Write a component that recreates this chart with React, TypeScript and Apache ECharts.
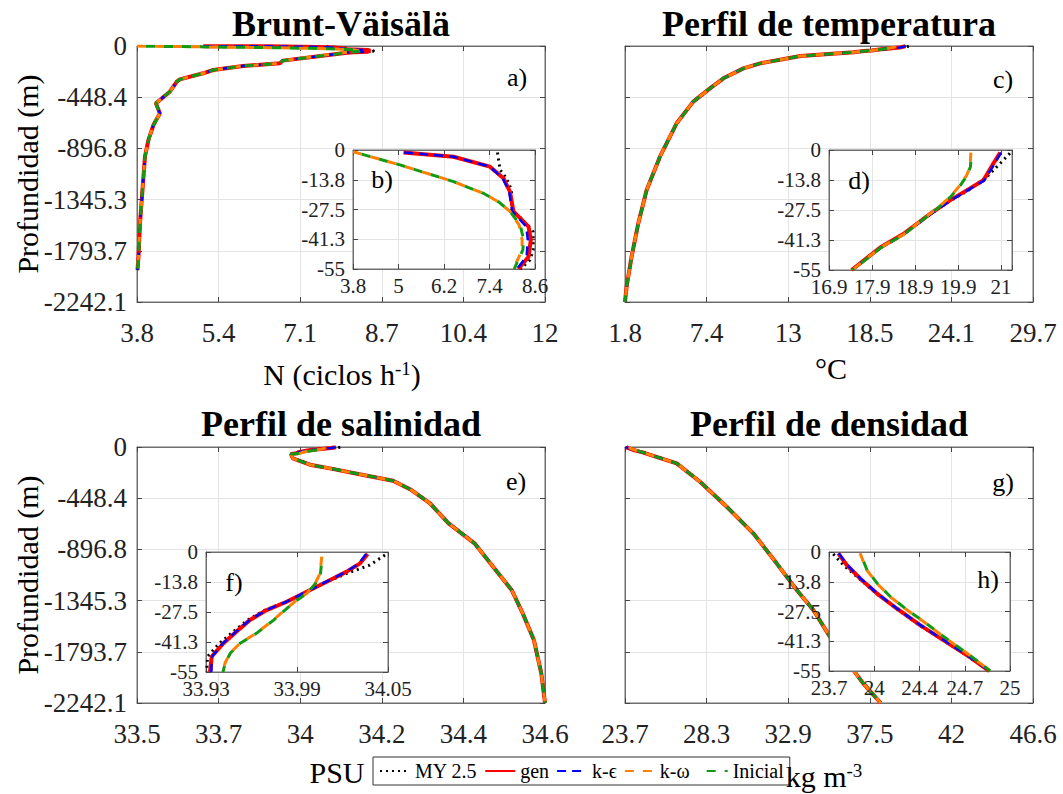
import React, { useEffect, useRef } from 'react';
import * as echarts from 'echarts';

const FONT = 'Liberation Serif';

const MODELS = ['MY 2.5', 'gen', 'k-ϵ', 'k-ω', 'Inicial'];

// ---- tick labels ----
const DEPTH_TICKS = ['-2242.1', '-1793.7', '-1345.3', '-896.8', '-448.4', '0'];
const INSET_DEPTH_TICKS = ['-55', '-41.3', '-27.5', '-13.8', '0'];
const N_TICKS = ['3.8', '5.4', '7.1', '8.7', '10.4', '12'];
const T_TICKS = ['1.8', '7.4', '13', '18.5', '24.1', '29.7'];
const S_TICKS = ['33.5', '33.7', '34', '34.2', '34.4', '34.6'];
const R_TICKS = ['23.7', '28.3', '32.9', '37.5', '42', '46.6'];
const N_INSET_TICKS = ['3.8', '5', '6.2', '7.4', '8.6'];
const T_INSET_TICKS = ['16.9', '17.9', '18.9', '19.9', '21'];
const S_INSET_TICKS = ['33.93', '33.99', '34.05'];
const R_INSET_TICKS = ['23.7', '24', '24.4', '24.7', '25'];

// ---- Brunt-Väisälä (ciclos/h) ----
const N_DEPTH_MY = [-1.2, -9.2, -13.1, -18.5, -27.7, -31, -37.8, -46.2, -50.8, -55];
const N_MY = [7.61, 7.68, 7.85, 7.98, 7.98, 8.2, 8.55, 8.55, 8.47, 8.21];
const N_DEPTH_GEN = [-1.2, -3.1, -7.7, -13.1, -19.3, -28.4, -35.4, -41.6, -49.3, -55];
const N_GEN = [5.13, 6.45, 7.41, 7.77, 7.94, 8.03, 8.43, 8.49, 8.43, 8.16];
const N_KE = [5.15, 6.45, 7.41, 7.75, 7.92, 8.0, 8.37, 8.41, 8.38, 8.12];
const N_DEPTH_KW = [-0.8, -6.9, -14.6, -20.2, -24.1, -28.4, -34.6, -41.6, -46.2, -55];
const N_KW = [3.8, 5.04, 6.45, 7.26, 7.65, 7.94, 8.18, 8.26, 8.26, 8.03];
const N_INI = [3.8, 5.04, 6.45, 7.26, 7.65, 7.94, 8.21, 8.3, 8.28, 8.05];
const N_DEEP_DEPTH = [-59, -128, -152, -175, -210, -239, -292, -312, -400, -473, -502, -590, -692, -823, -969, -1261, -1553, -1845, -1962];
const N_DEEP = [8.02, 6.73, 6.67, 5.93, 5.33, 5.13, 4.66, 4.6, 4.46, 4.26, 4.18, 4.26, 4.13, 4.03, 3.96, 3.91, 3.86, 3.83, 3.81];

// ---- Temperatura (°C) ----
const T_DEPTH_MY = [-1.5, -6.1, -12.3, -18.5, -23.1, -29.3, -38.5, -44.7, -55];
const T_MY = [21.21, 20.98, 20.66, 20.22, 19.8, 19.31, 18.67, 18.12, 17.44];
const T_DEPTH_GEN = [-1.2, -6.1, -13.9, -18.5, -23.1, -29.3, -38.5, -44.7, -55];
const T_GEN = [20.98, 20.82, 20.58, 20.18, 19.78, 19.31, 18.67, 18.12, 17.44];
const T_KE = [21.0, 20.85, 20.6, 20.2, 19.8, 19.33, 18.69, 18.14, 17.45];
const T_DEPTH_KW = [-1.2, -7.7, -11.6, -16.2, -21.6, -26.9, -33, -38.5, -44.7, -55];
const T_KW = [20.28, 20.26, 20.18, 20.02, 19.78, 19.47, 19.05, 18.69, 18.13, 17.45];
const T_INI = [20.29, 20.27, 20.19, 20.03, 19.79, 19.48, 19.06, 18.7, 18.14, 17.46];
const T_DEEP_DEPTH = [-88, -152, -196, -283, -371, -487, -677, -969, -1261, -1553, -1845, -2108, -2242];
const T_DEEP = [13.8, 11.04, 9.9, 8.53, 7.61, 6.47, 5.33, 4.19, 3.28, 2.71, 2.25, 1.91, 1.8];

// ---- Salinidad (PSU) ----
const S_DEPTH_MY = [-1.4, -6, -9.8, -13.6, -18.2, -22.8, -26.6, -31.2, -36.5, -41.8, -47.9, -55];
const S_MY = [34.048, 34.038, 34.023, 34.0096, 33.9964, 33.9832, 33.969, 33.9575, 33.948, 33.939, 33.931, 33.9304];
const S_DEPTH_GEN = [-0.9, -5.2, -9.0, -13.6, -18.2, -22.8, -26.6, -31.2, -36.5, -41.8, -47.9, -55];
const S_GEN = [34.0366, 34.0316, 34.0228, 34.0096, 33.9964, 33.9832, 33.97, 33.959, 33.95, 33.9415, 33.9338, 33.9326];
const S_KE = [34.0355, 34.031, 34.0225, 34.0094, 33.9962, 33.983, 33.9698, 33.9588, 33.9498, 33.9412, 33.934, 33.9335];
const S_DEPTH_KW = [-2.1, -9.8, -14.4, -19, -22, -25.8, -31.2, -37.3, -41.8, -46.4, -51, -55];
const S_KW = [34.0063, 34.0052, 34.002, 33.9964, 33.99, 33.9832, 33.9744, 33.963, 33.9524, 33.9458, 33.9425, 33.941];
const S_INI = [34.0066, 34.0055, 34.0022, 33.9966, 33.9902, 33.9834, 33.9746, 33.9632, 33.9526, 33.946, 33.9427, 33.9412];
const S_DEEP_DEPTH = [-61, -99, -158, -187, -245, -295, -377, -494, -669, -844, -1048, -1252, -1457, -1690, -1982, -2242];
const S_DEEP = [33.915, 33.92, 33.97, 34.02, 34.11, 34.19, 34.24, 34.29, 34.34, 34.41, 34.46, 34.51, 34.54, 34.57, 34.59, 34.6];

// ---- Densidad (kg m-3) ----
const R_DEPTH_MY = [-0.9, -6, -12.2, -19.1, -26.1, -33.8, -40.7, -47.6, -55];
const R_MY = [23.731, 23.803, 23.915, 24.04, 24.183, 24.35, 24.518, 24.686, 24.852];
const R_DEPTH_GEN = [-0.6, -6, -12.2, -19.1, -26.1, -33.8, -40.7, -47.6, -55];
const R_GEN = [23.767, 23.827, 23.923, 24.043, 24.186, 24.354, 24.521, 24.689, 24.852];
const R_KE = [23.77, 23.83, 23.925, 24.045, 24.188, 24.356, 24.523, 24.69, 24.853];
const R_DEPTH_KW = [-0.6, -8.3, -14.4, -20.6, -26.7, -32.1, -39.1, -46.7, -55];
const R_KW = [23.923, 23.971, 24.043, 24.138, 24.258, 24.378, 24.521, 24.689, 24.857];
const R_INI = [23.925, 23.973, 24.045, 24.14, 24.26, 24.38, 24.523, 24.69, 24.858];
const R_DEEP_DEPTH = [-143, -304, -523, -756, -1019, -1252, -1428, -1661, -1836, -2070, -2242];
const R_DEEP = [26.6, 27.91, 29.41, 30.9, 32.21, 33.34, 34.27, 35.2, 35.95, 37.07, 38.05];

const STYLES = [
  { color: '#000000', width: 3, type: [2, 4] as any, offset: 0 },
  { color: '#ff0000', width: 4, type: 'solid' as any, offset: 0 },
  { color: '#0000ff', width: 2.5, type: [9, 6] as any, offset: 0 },
  { color: '#ff8000', width: 3, type: [9, 9] as any, offset: 0 },
  { color: '#139a13', width: 3, type: [9, 9] as any, offset: 9 },
];

function pairs(vals: number[], depths: number[]) {
  return vals.map((v, i) => [v, depths[i]]);
}
function surf(set: { d: number[]; v: number[] }[]) {
  return set.map((c) => pairs(c.v, c.d));
}
function full(set: { d: number[]; v: number[] }[], deepV: number[], deepD: number[]) {
  return set.map((c) => pairs(c.v.concat(deepV), c.d.concat(deepD)));
}

const N_SET = [
  { d: N_DEPTH_MY, v: N_MY }, { d: N_DEPTH_GEN, v: N_GEN }, { d: N_DEPTH_GEN, v: N_KE },
  { d: N_DEPTH_KW, v: N_KW }, { d: N_DEPTH_KW, v: N_INI },
];
const T_SET = [
  { d: T_DEPTH_MY, v: T_MY }, { d: T_DEPTH_GEN, v: T_GEN }, { d: T_DEPTH_GEN, v: T_KE },
  { d: T_DEPTH_KW, v: T_KW }, { d: T_DEPTH_KW, v: T_INI },
];
const S_SET = [
  { d: S_DEPTH_MY, v: S_MY }, { d: S_DEPTH_GEN, v: S_GEN }, { d: S_DEPTH_GEN, v: S_KE },
  { d: S_DEPTH_KW, v: S_KW }, { d: S_DEPTH_KW, v: S_INI },
];
const R_SET = [
  { d: R_DEPTH_MY, v: R_MY }, { d: R_DEPTH_GEN, v: R_GEN }, { d: R_DEPTH_GEN, v: R_KE },
  { d: R_DEPTH_KW, v: R_KW }, { d: R_DEPTH_KW, v: R_INI },
];

const MAIN_Y = { min: -2242.1, max: 0, interval: 448.42, labels: DEPTH_TICKS };
const INSET_Y = { min: -55, max: 0, interval: 13.75, labels: INSET_DEPTH_TICKS };

const PANELS = [
  { grid: { left: 137, top: 46, width: 408, height: 256 }, inset: false, showY: true,
    x: { min: 3.8, max: 12, interval: 1.64, labels: N_TICKS }, y: MAIN_Y,
    curves: full(N_SET, N_DEEP, N_DEEP_DEPTH) },
  { grid: { left: 625, top: 46, width: 408, height: 256 }, inset: false, showY: false,
    x: { min: 1.8, max: 29.7, interval: 5.58, labels: T_TICKS }, y: MAIN_Y,
    curves: full(T_SET, T_DEEP, T_DEEP_DEPTH) },
  { grid: { left: 137, top: 447, width: 408, height: 256 }, inset: false, showY: true,
    x: { min: 33.5, max: 34.6, interval: 0.22, labels: S_TICKS }, y: MAIN_Y,
    curves: full(S_SET, S_DEEP, S_DEEP_DEPTH) },
  { grid: { left: 625, top: 447, width: 408, height: 256 }, inset: false, showY: false,
    x: { min: 23.7, max: 46.6, interval: 4.58, labels: R_TICKS }, y: MAIN_Y,
    curves: full(R_SET, R_DEEP, R_DEEP_DEPTH) },
  { grid: { left: 353, top: 150, width: 182, height: 119 }, inset: true, showY: true,
    x: { min: 3.8, max: 8.6, interval: 1.2, labels: N_INSET_TICKS }, y: INSET_Y,
    curves: surf(N_SET) },
  { grid: { left: 829, top: 150, width: 183, height: 120 }, inset: true, showY: true,
    x: { min: 16.9, max: 21.26, interval: 1.025, labels: T_INSET_TICKS }, y: INSET_Y,
    curves: surf(T_SET) },
  { grid: { left: 206, top: 552, width: 182, height: 120 }, inset: true, showY: true,
    x: { min: 33.93, max: 34.05, interval: 0.06, labels: S_INSET_TICKS }, y: INSET_Y,
    curves: surf(S_SET) },
  { grid: { left: 829, top: 552, width: 181, height: 119 }, inset: true, showY: true,
    x: { min: 23.7, max: 25, interval: 0.325, labels: R_INSET_TICKS }, y: INSET_Y,
    curves: surf(R_SET) },
];

function fmt(min: number, interval: number, labels: string[]) {
  return (v: number) => {
    const k = (v - min) / interval;
    const i = Math.round(k);
    if (Math.abs(k - i) > 1e-3 || labels[i] === undefined) return '';
    return labels[i];
  };
}

function buildOption() {
  const grids: any[] = [];
  const xAxes: any[] = [];
  const yAxes: any[] = [];
  const series: any[] = [];

  PANELS.forEach((p, gi) => {
    const zs = p.inset ? 7 : 2;
    const fs = p.inset ? 21 : 27;
    const g: any = { ...p.grid, show: true, borderColor: '#6e6e6e', borderWidth: 1 };
    if (p.inset) { g.z = 5; g.backgroundColor = '#ffffff'; }
    grids.push(g);
    const common = (ax: any) => {
      const o: any = {
        type: 'value', gridIndex: gi, min: ax.min, max: ax.max, interval: ax.interval,
        axisLine: { show: true, onZero: false, lineStyle: { color: '#6e6e6e', width: 1 } },
        axisTick: { show: true, inside: true, length: 5, lineStyle: { color: '#444', width: 1 } },
      };
      if (p.inset) o.z = 6;
      return o;
    };
    xAxes.push({
      ...common(p.x), position: 'bottom',
      splitLine: { show: true, lineStyle: { color: '#e4e4e4', width: 1 } },
      axisLabel: { margin: p.inset ? 6 : 17, fontSize: fs, fontFamily: FONT, color: '#222',
        formatter: fmt(p.x.min, p.x.interval, p.x.labels) },
    });
    xAxes.push({
      ...common(p.x), position: 'top',
      splitLine: { show: false }, axisLabel: { show: false },
    });
    yAxes.push({
      ...common(p.y), position: 'left',
      splitLine: { show: true, lineStyle: { color: '#e4e4e4', width: 1 } },
      axisLabel: { show: p.showY, margin: p.inset ? 8 : 10, fontSize: fs, fontFamily: FONT, color: '#222',
        formatter: fmt(p.y.min, p.y.interval, p.y.labels) },
    });
    yAxes.push({
      ...common(p.y), position: 'right',
      splitLine: { show: false }, axisLabel: { show: false },
    });
    p.curves.forEach((data, mi) => {
      const s = STYLES[mi];
      series.push({
        type: 'line', name: MODELS[mi], xAxisIndex: gi * 2, yAxisIndex: gi * 2,
        data, showSymbol: false, symbol: 'none', clip: true, z: zs, silent: true,
        lineStyle: { color: s.color, width: s.width, type: s.type, dashOffset: s.offset, cap: 'butt' },
        itemStyle: { color: s.color }, emphasis: { disabled: true },
      });
    });
  });

  const txt = (x: number, y: number, text: string, size: number, extra: any = {}) => ({
    type: 'text', x, y, z: 100, rotation: extra.rotation || 0,
    style: { text, fontSize: size, fontFamily: FONT, fill: '#000', align: 'center', verticalAlign: 'middle',
      fontWeight: extra.bold ? 'bold' : 'normal', ...(extra.style || {}) },
  });
  const supRich = { sup: { fontSize: 19, fontFamily: FONT, verticalAlign: 'top', fill: '#000' },
    base: { fontSize: 30, fontFamily: FONT, fill: '#000' } };

  const graphics = [
    txt(341, 24, 'Brunt-Väisälä', 36, { bold: true }),
    txt(829, 24, 'Perfil de temperatura', 36, { bold: true }),
    txt(341, 424, 'Perfil de salinidad', 36, { bold: true }),
    txt(829, 424, 'Perfil de densidad', 36, { bold: true }),
    txt(27, 174, 'Profundidad (m)', 30, { rotation: Math.PI / 2 }),
    txt(27, 575, 'Profundidad (m)', 30, { rotation: Math.PI / 2 }),
    txt(342, 374, '{base|N (ciclos h}{sup|-1}{base|)}', 30, { style: { rich: supRich } }),
    txt(831, 368, '°C', 30),
    txt(337, 772, 'PSU', 30),
    txt(824, 776, '{base|kg m}{sup|-3}', 30, { style: { rich: supRich } }),
    txt(517, 77, 'a)', 26),
    txt(1003, 79, 'c)', 26),
    txt(516, 481, 'e)', 26),
    txt(1003, 482, 'g)', 26),
    txt(382, 179, 'b)', 26),
    txt(859, 180, 'd)', 26),
    txt(234, 582, 'f)', 26),
    txt(988, 579, 'h)', 26),
  ];

  return {
    animation: false,
    grid: grids,
    xAxis: xAxes,
    yAxis: yAxes,
    series,
    legend: {
      data: MODELS, left: 373, top: 757, orient: 'horizontal',
      itemWidth: 30, itemHeight: 12, itemGap: 7, padding: [4, 6],
      borderColor: '#333', borderWidth: 1, backgroundColor: '#fff',
      itemStyle: { opacity: 0 },
      textStyle: { fontSize: 20, fontFamily: FONT, color: '#000' },
      selectedMode: false,
    },
    graphic: graphics,
  };
}

export default function App() {
  const ref = useRef<HTMLDivElement>(null);
  useEffect(() => {
    if (!ref.current) return;
    const chart = echarts.init(ref.current, null, { renderer: 'svg' });
    chart.setOption(buildOption() as any);
    return () => chart.dispose();
  }, []);
  return (
    <div
      ref={ref}
      style={{ position: 'fixed', left: 0, top: 0, width: 1063, height: 794, background: '#fff' }}
    />
  );
}
